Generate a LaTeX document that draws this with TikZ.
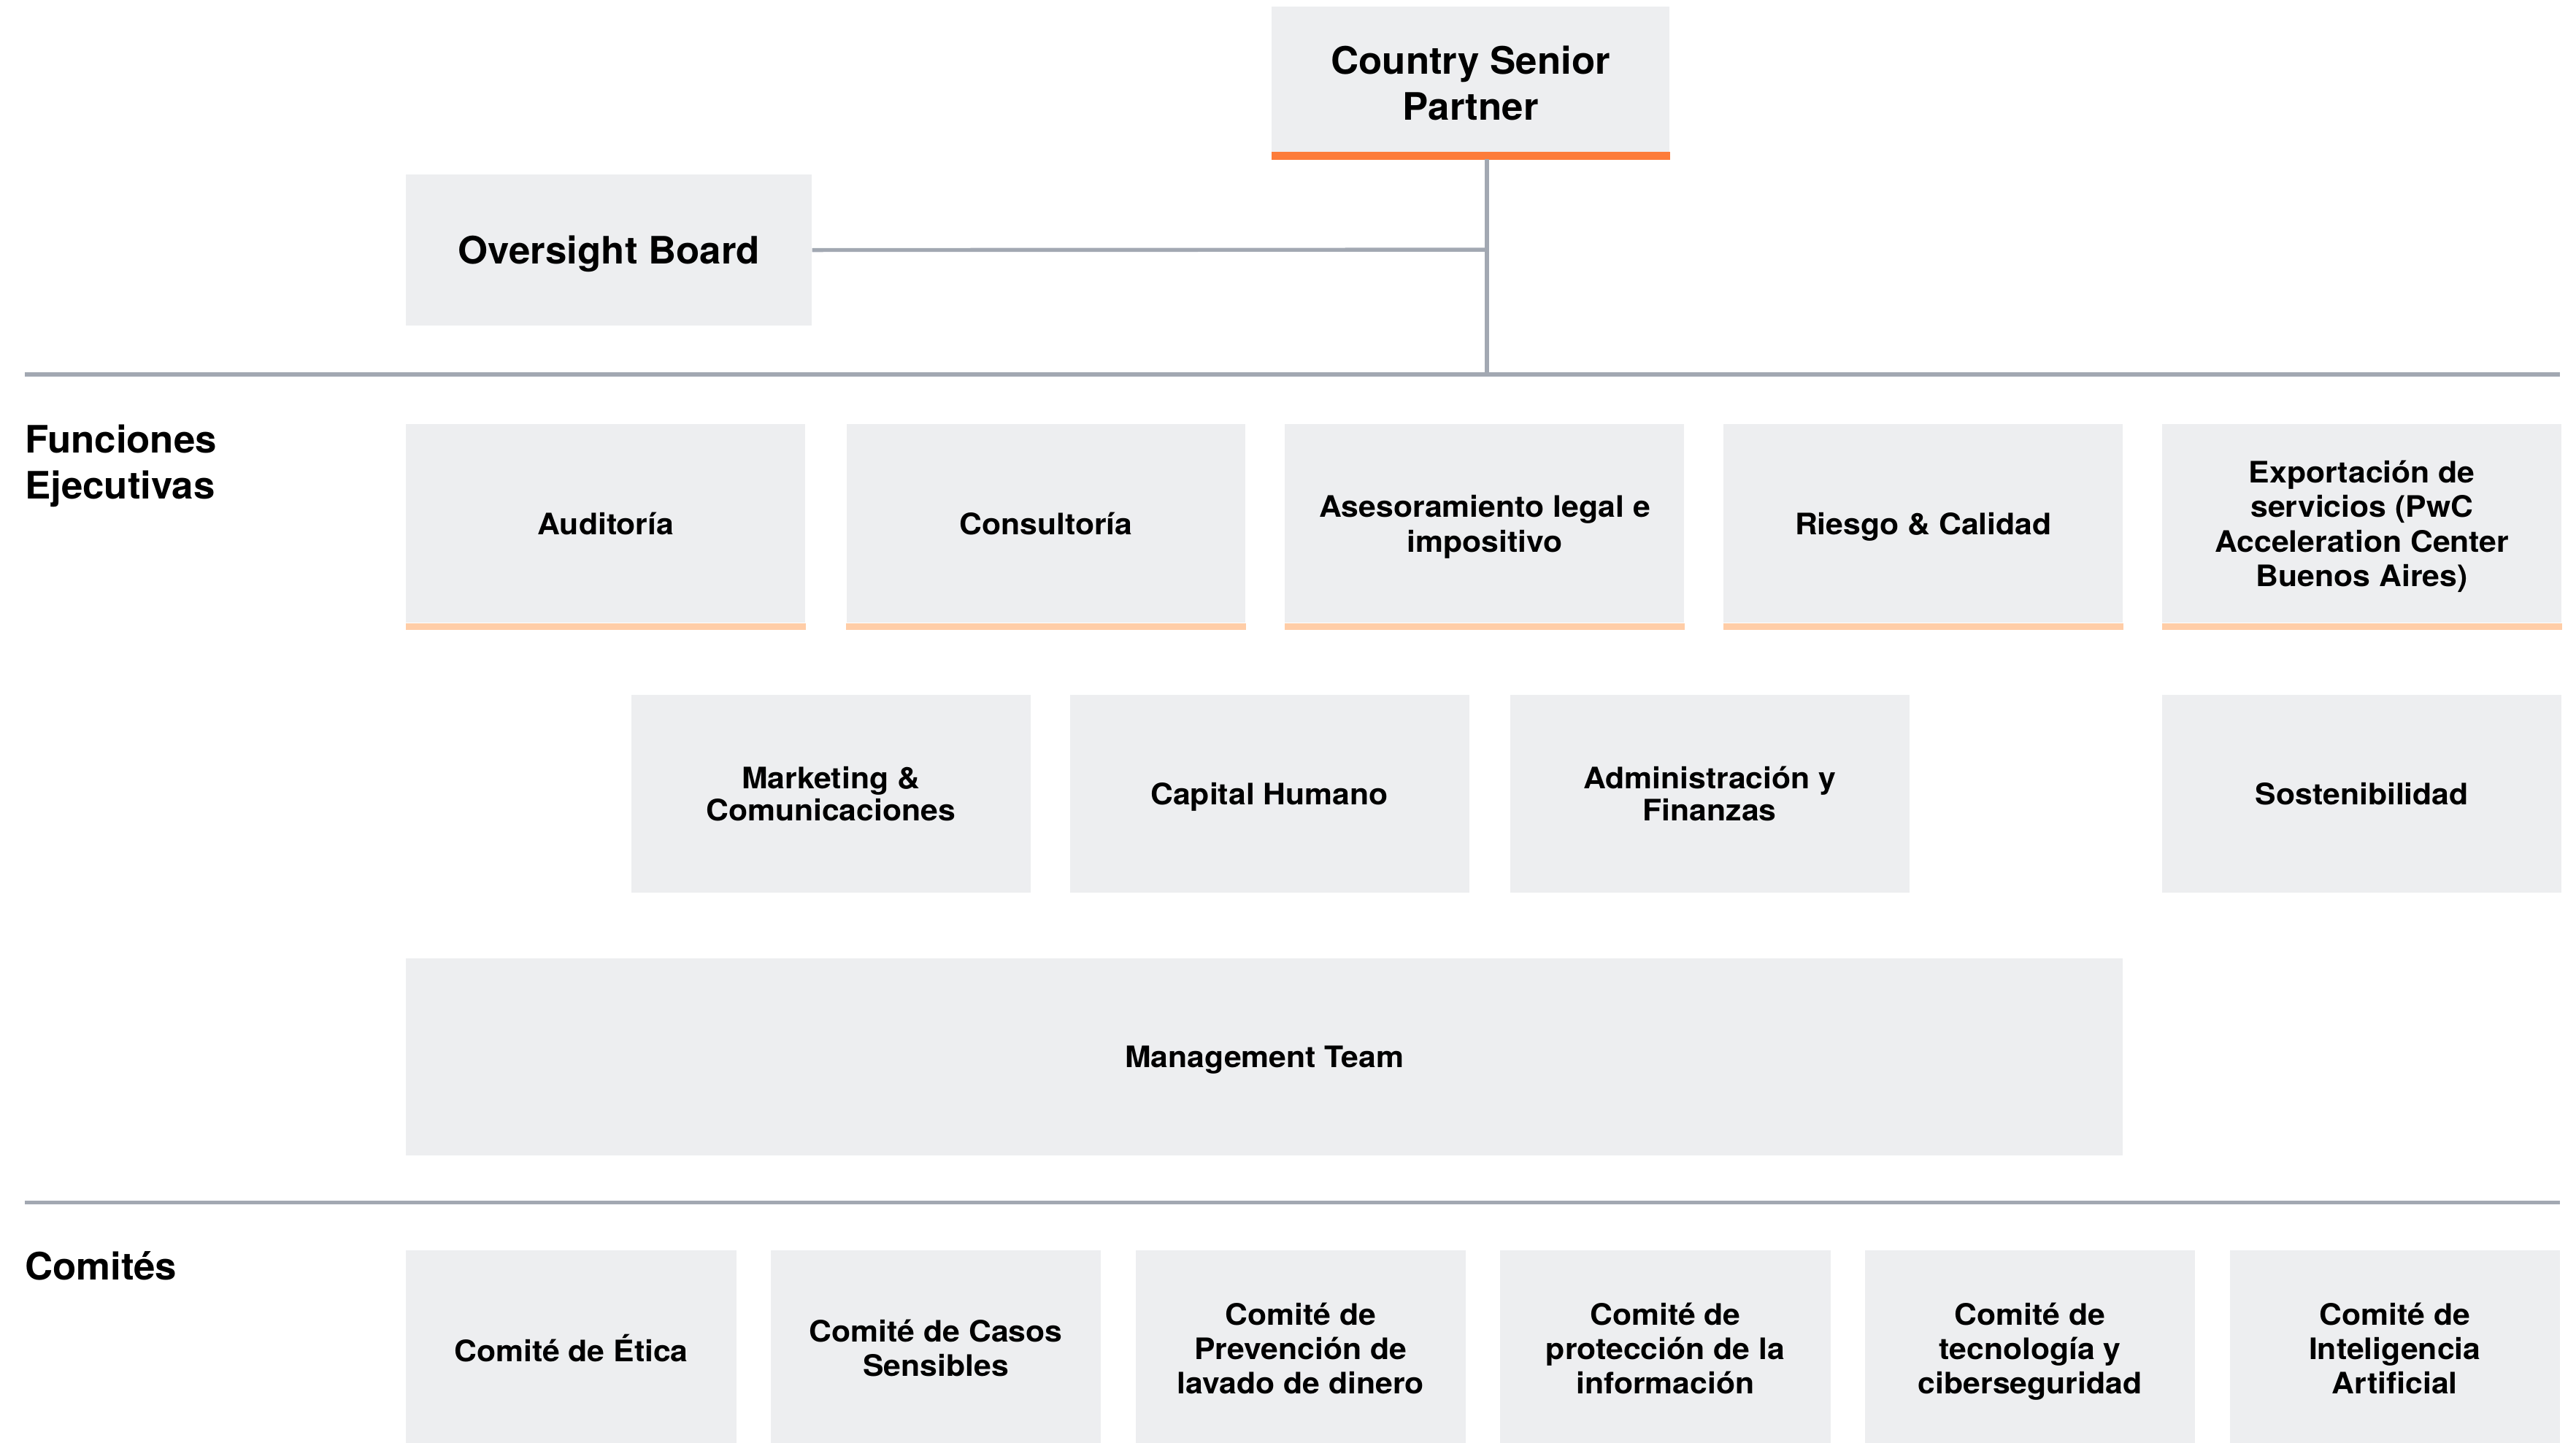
\documentclass[tikz,border=0pt]{standalone}
\usepackage{fontspec}
\setmainfont{TeX Gyre Heros}[FakeStretch=1.055]
\newfontfamily\bigfont{TeX Gyre Heros}[FakeStretch=1.02]
\usetikzlibrary{calc}
\definecolor{boxgrey}{HTML}{EDEEF0}
\definecolor{accent}{HTML}{FD7C3A}
\definecolor{accentlight}{HTML}{FFCDA7}
\definecolor{linegrey}{HTML}{A2A8B2}
\tikzset{
  unitbox/.style={fill=boxgrey, inner sep=0pt, anchor=north west, align=center,
    text depth=0pt, font=\bfseries\fontsize{18}{21}\selectfont},
  rowtwo/.style={unitbox, font=\bfseries\fontsize{18}{19.5}\selectfont},
  bigbox/.style={unitbox, font=\bigfont\bfseries\fontsize{23}{28}\selectfont},
  heading/.style={inner sep=0pt, anchor=north west, align=left,
    font=\bigfont\bfseries\fontsize{23}{28}\selectfont},
  connector/.style={draw=linegrey, line width=2.4pt},
  separator/.style={draw=linegrey, line width=2.4pt},
}
\begin{document}
\begin{tikzpicture}[x=1pt,y=-1pt]
\useasboundingbox (0,0) rectangle (1568,878.4);
% top level
\node[bigbox, minimum width=242pt, minimum height=93pt] (csp) at (774,4) {Country Senior\\Partner};
\fill[accent] ($(csp.south west)+(0,-5)$) rectangle (csp.south east);
\node[bigbox, minimum width=247pt, minimum height=92pt] (ob) at (247,106) {Oversight Board};
% separators
\coordinate (s1l) at (15,228);
\coordinate (s1r) at (1558,228);
\coordinate (s2l) at (15,732);
\coordinate (s2r) at (1558,732);
\draw[separator] (s1l) -- (s1r);
\draw[separator] (s2l) -- (s2r);
% connectors
\coordinate (cspfoot) at (905,97);
\coordinate (junction) at (905,152);
\coordinate (sepjoin) at (905,228);
\draw[connector] (cspfoot) -- (sepjoin);
\draw[connector] (ob.east) -- (junction);
% headings
\node[heading] (hfun) at (15,258.5) {Funciones\\Ejecutivas};
\node[heading] (hcom) at (15,761.5) {Comités};
% row 1
\foreach \name/\x/\txt in {aud/247/{Auditoría}, con/515/{Consultoría},
    ase/782/{Asesoramiento legal e\\impositivo}, rie/1049/{Riesgo \& Calidad},
    exp/1316/{Exportación de\\servicios (PwC\\Acceleration Center\\Buenos Aires)}} {
  \node[unitbox, minimum width=243pt, minimum height=121pt] (\name) at (\x,258) {\txt};
  \fill[accentlight] (\name.south west) rectangle ($(\name.south east)+(0,4)$);
}
% row 2
\node[rowtwo, minimum width=243pt, minimum height=120pt] (mkt) at (384,423) {Marketing \&\\Comunicaciones};
\node[rowtwo, minimum width=243pt, minimum height=120pt] (cap) at (651,423) {Capital Humano};
\node[rowtwo, minimum width=243pt, minimum height=120pt] (adm) at (919,423) {Administración y\\Finanzas};
\node[rowtwo, minimum width=243pt, minimum height=120pt] (sos) at (1316,423) {Sostenibilidad};
% management team
\node[unitbox, minimum width=1045pt, minimum height=120pt] (mgt) at (247,583) {Management Team};
% committees
\foreach \name/\x/\txt in {c1/247/{Comité de Ética}, c2/469/{Comité de Casos\\Sensibles},
    c3/691/{Comité de\\Prevención de\\lavado de dinero}, c4/913/{Comité de\\protección de la\\información},
    c5/1135/{Comité de\\tecnología y\\ciberseguridad}, c6/1357/{Comité de\\Inteligencia\\Artificial}} {
  \node[unitbox, minimum width=201pt, minimum height=119pt] (\name) at (\x,761) {\txt};
}
\end{tikzpicture}
\end{document}
